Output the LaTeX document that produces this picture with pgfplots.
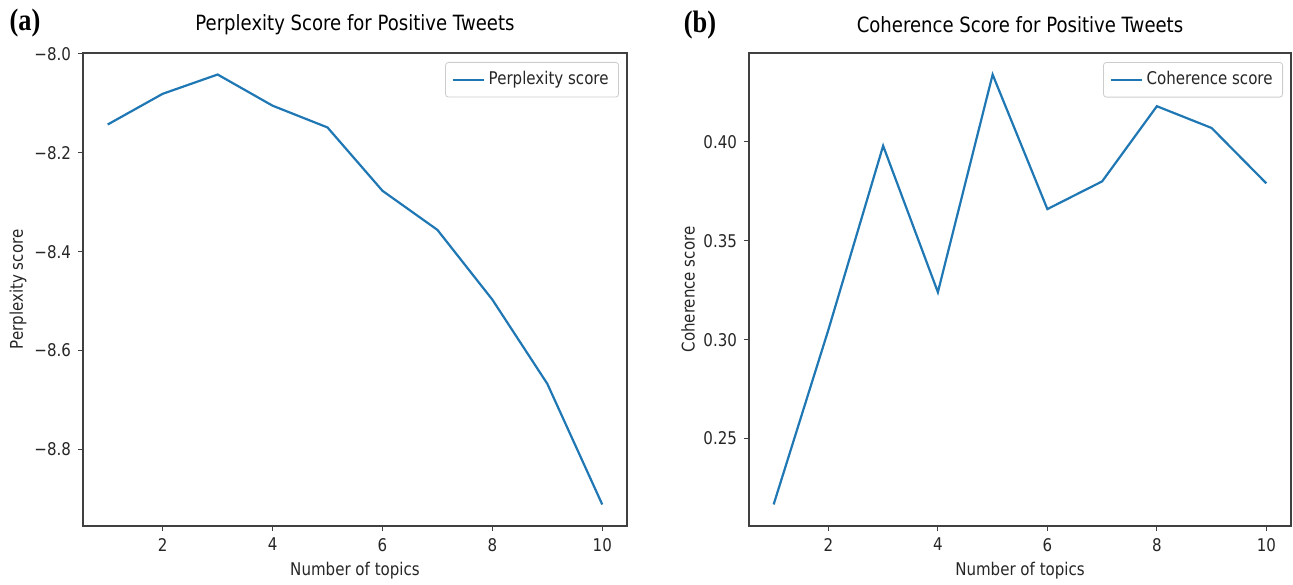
\documentclass[border=0pt]{standalone}
\usepackage{pgfplots}
\pgfplotsset{compat=1.18}
\usepackage{fontspec}
\setmainfont[FakeStretch=0.86]{DejaVu Sans}
\newfontfamily\labfont[FakeStretch=0.85]{Liberation Serif}
\definecolor{mplblue}{HTML}{1F77B4}

\begin{document}
\begin{tikzpicture}
\path[use as bounding box] (0,0) rectangle (646.5pt,-292pt);
\pgfplotsset{
 myaxis/.style={
  scale only axis, height=236.5pt,
  xmin=0.55, xmax=10.45,
  xtick={2,4,6,8,10},
  tick align=outside, tick pos=left,
  major tick length=2.5pt,
  axis line style={black!75, line width=0.6pt},
  every tick/.style={black!75, line width=0.6pt},
  tick label style={font=\fontsize{8.75}{10}\selectfont, text=black!85},
  label style={font=\fontsize{8.75}{10}\selectfont, text=black!85},
  title style={font=\fontsize{10.5}{12}\selectfont, anchor=center, at={(axis description cs:0.5,1.0338)}},
  /pgf/number format/assume math mode=true,
  legend style={at={(1,1)}, anchor=north east, xshift=-4pt, yshift=-4.5pt, draw=black!20, rounded corners=1.5pt, font=\fontsize{8.75}{10}\selectfont, inner xsep=3pt, inner ysep=2.6pt, row sep=0pt, text=black!85},
  legend image code/.code={\draw[#1] (0pt,0pt) -- (15.5pt,0pt);},
  xlabel={Number of topics},
  xlabel style={at={(axis description cs:0.5,-0.0951)}, anchor=center},
 }
}
\begin{axis}[myaxis, width=272pt, at={(41.5pt,-263pt)}, anchor=south west,
  title={Perplexity Score for Positive Tweets},
  ylabel={Perplexity score},
  ylabel style={at={(axis description cs:-0.1195,0.5)}, anchor=center},
  ymin=-8.9545, ymax=-7.9985,
  ytick={-8.8,-8.6,-8.4,-8.2,-8.0},
  yticklabels={−8.8,−8.6,−8.4,−8.2,−8.0},
]
\addplot[mplblue, line width=1.1pt] coordinates {
(1,-8.143) (2,-8.081) (3,-8.042) (4,-8.105) (5,-8.149)
(6,-8.277) (7,-8.356) (8,-8.497) (9,-8.667) (10,-8.911)};
\addlegendentry{Perplexity score}
\end{axis}
\begin{axis}[myaxis, width=271pt, at={(374.5pt,-263pt)}, anchor=south west,
  title={Coherence Score for Positive Tweets},
  ylabel={Coherence score},
  ylabel style={at={(axis description cs:-0.1125,0.5)}, anchor=center},
  ymin=0.2058, ymax=0.4449,
  ytick={0.25,0.30,0.35,0.40},
  yticklabels={0.25,0.30,0.35,0.40},
]
\addplot[mplblue, line width=1.1pt] coordinates {
(1,0.2167) (2,0.305) (3,0.398) (4,0.324) (5,0.434)
(6,0.366) (7,0.380) (8,0.418) (9,0.407) (10,0.379)};
\addlegendentry{Coherence score}
\end{axis}
\node[font=\labfont\bfseries\fontsize{15.5}{15.5}\selectfont] at (12.5pt,-11.5pt) {(a)};
\node[font=\labfont\bfseries\fontsize{15.5}{15.5}\selectfont] at (350pt,-12.5pt) {(b)};
\end{tikzpicture}
\end{document}
